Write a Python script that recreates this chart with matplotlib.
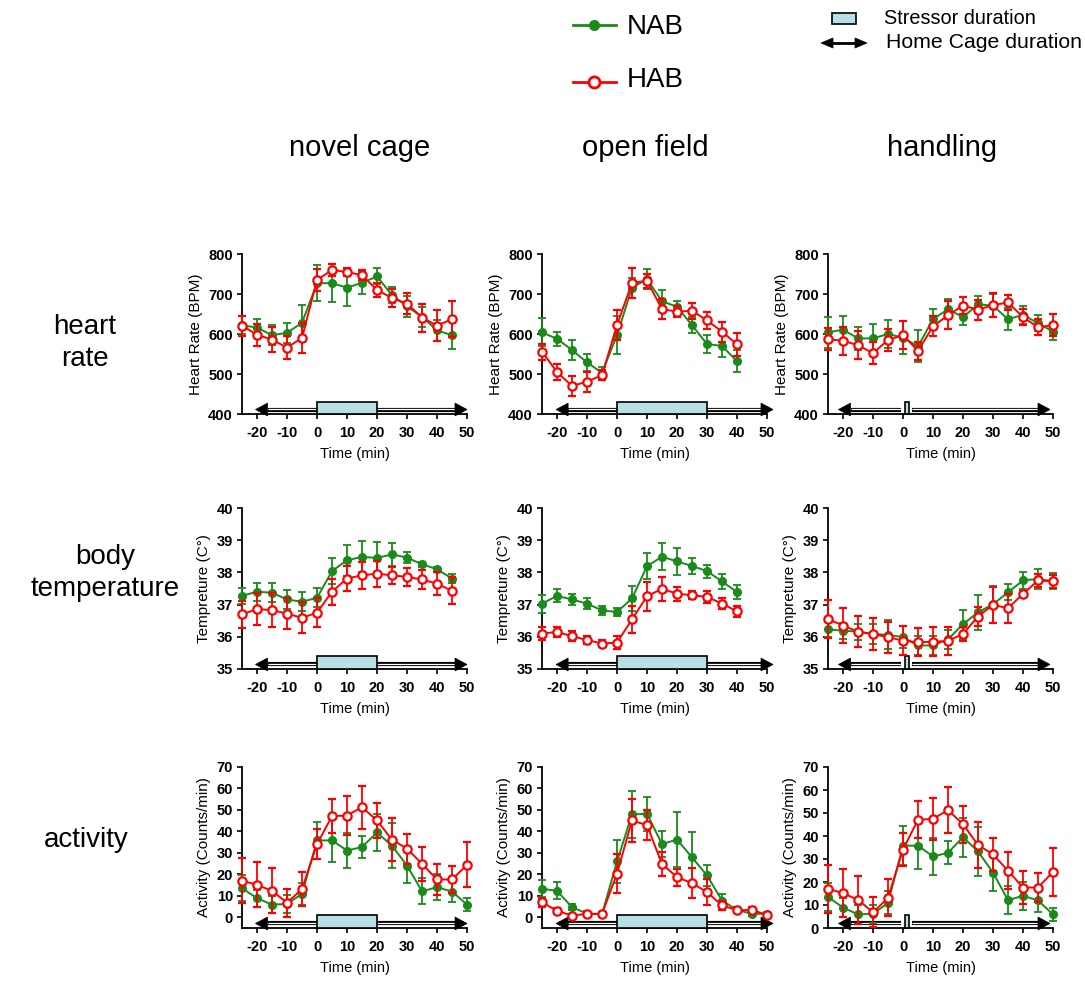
import matplotlib
matplotlib.use('Agg')
import matplotlib.pyplot as plt
import matplotlib.transforms as mtransforms
from matplotlib.patches import Rectangle, Polygon
from matplotlib.lines import Line2D
import numpy as np

plt.rcParams['font.family'] = ['Liberation Sans', 'DejaVu Sans']
plt.rcParams['axes.unicode_minus'] = False

# ---------------- data ----------------
columns = ['novel cage', 'open field', 'handling']
rows = ['heart\nrate', 'body\ntemperature', 'activity']
ylabels = ['Heart Rate (BPM)', 'Tempreture (C°)', 'Activity (Counts/min)']
xticks = [-20, -10, 0, 10, 20, 30, 40, 50]

t_nc = [-25, -20, -15, -10, -5, 0, 5, 10, 15, 20, 25, 30, 35, 40, 45]
t_of = [-25, -20, -15, -10, -5, 0, 5, 10, 15, 20, 25, 30, 35, 40]
t_full = [-25, -20, -15, -10, -5, 0, 5, 10, 15, 20, 25, 30, 35, 40, 45, 50]

# heart rate
hr_nc_nab = [622, 616, 597, 603, 628, 727, 727, 716, 728, 744, 697, 669, 643, 609, 597]
hr_nc_nab_e = [22, 21, 25, 25, 45, 45, 48, 46, 27, 20, 20, 27, 25, 27, 35]
hr_nc_hab = [621, 598, 586, 566, 590, 735, 760, 755, 747, 710, 690, 676, 641, 621, 637]
hr_nc_hab_e = [25, 27, 32, 28, 38, 28, 16, 10, 13, 17, 22, 27, 35, 38, 45]

hr_of_nab = [604, 588, 560, 529, 503, 597, 716, 737, 682, 668, 622, 575, 570, 532]
hr_of_nab_e = [35, 18, 25, 22, 15, 47, 25, 25, 28, 15, 20, 22, 28, 27]
hr_of_hab = [556, 505, 470, 481, 497, 622, 728, 733, 662, 656, 658, 634, 606, 574]
hr_of_hab_e = [20, 20, 25, 25, 12, 38, 38, 18, 25, 13, 20, 22, 25, 28]

hr_hd_nab = [604, 611, 589, 589, 600, 591, 569, 637, 662, 642, 674, 671, 637, 648, 627, 606]
hr_hd_nab_e = [38, 35, 28, 35, 35, 42, 40, 25, 25, 20, 22, 28, 28, 22, 20, 22]
hr_hd_hab = [587, 583, 572, 552, 585, 597, 558, 619, 647, 671, 661, 672, 679, 642, 617, 622]
hr_hd_hab_e = [28, 35, 35, 28, 28, 35, 22, 25, 35, 22, 25, 30, 18, 20, 20, 28]

# body temperature
bt_nc_nab = [37.27, 37.40, 37.37, 37.16, 37.09, 37.21, 38.04, 38.38, 38.48, 38.45, 38.56, 38.46, 38.25, 38.10, 37.81]
bt_nc_nab_e = [0.25, 0.28, 0.30, 0.30, 0.30, 0.30, 0.40, 0.48, 0.48, 0.48, 0.35, 0.18, 0.08, 0.08, 0.15]
bt_nc_hab = [36.70, 36.86, 36.83, 36.72, 36.59, 36.75, 37.40, 37.81, 37.91, 37.96, 37.91, 37.86, 37.78, 37.65, 37.43]
bt_nc_hab_e = [0.42, 0.50, 0.52, 0.48, 0.48, 0.46, 0.40, 0.40, 0.42, 0.40, 0.27, 0.27, 0.28, 0.35, 0.42]

bt_of_nab = [37.03, 37.27, 37.16, 37.03, 36.82, 36.77, 37.19, 38.19, 38.49, 38.34, 38.20, 38.04, 37.72, 37.39]
bt_of_nab_e = [0.28, 0.20, 0.17, 0.17, 0.15, 0.12, 0.40, 0.40, 0.42, 0.42, 0.25, 0.20, 0.22, 0.22]
bt_of_hab = [36.10, 36.15, 36.02, 35.90, 35.79, 35.82, 36.54, 37.26, 37.49, 37.34, 37.29, 37.24, 37.03, 36.79]
bt_of_hab_e = [0.20, 0.15, 0.15, 0.12, 0.12, 0.20, 0.42, 0.45, 0.37, 0.22, 0.12, 0.18, 0.18, 0.17]

bt_hd_nab = [36.23, 36.19, 36.16, 36.09, 36.06, 35.99, 35.73, 35.73, 35.92, 36.39, 36.76, 37.01, 37.38, 37.75, 37.80, 37.72]
bt_hd_nab_e = [0.25, 0.25, 0.25, 0.30, 0.45, 0.33, 0.30, 0.30, 0.30, 0.45, 0.55, 0.58, 0.25, 0.25, 0.30, 0.25]
bt_hd_hab = [36.55, 36.35, 36.16, 36.08, 35.99, 35.88, 35.83, 35.85, 35.87, 36.09, 36.63, 36.99, 36.89, 37.33, 37.75, 37.72]
bt_hd_hab_e = [0.58, 0.55, 0.48, 0.50, 0.48, 0.45, 0.43, 0.45, 0.42, 0.22, 0.30, 0.55, 0.45, 0.08, 0.20, 0.20]

# activity
ac_nc_nab = [13.5, 8.9, 5.9, 6.2, 10.9, 35.8, 35.8, 31.1, 32.7, 39.5, 33.3, 24.1, 12.1, 14.0, 12.0, 5.9]
ac_nc_nab_e = [6, 4, 4, 4, 5, 8.5, 10, 8, 5, 8.5, 10.5, 8, 6, 6, 5, 3]
ac_nc_hab = [17.1, 15.1, 12.3, 6.8, 13.1, 34.1, 47.1, 47.4, 51.3, 45.1, 36.1, 32.0, 24.9, 17.6, 17.6, 24.4]
ac_nc_hab_e = [10.5, 10.5, 10.5, 6.5, 8, 7, 8, 9, 10, 8, 10, 7, 8, 7, 6.5, 10.5]

ac_of_nab = [13.3, 12.3, 4.7, 1.7, 1.4, 26.0, 47.9, 48.2, 34.1, 36.2, 27.9, 19.5, 7.8, 3.4, 1.6, 1.6]
ac_of_nab_e = [4, 4, 1.5, 1, 0.5, 10, 11, 8, 6, 13, 12, 5, 3, 1.5, 1, 1]
ac_of_hab = [7.0, 3.0, 0.8, 1.6, 1.6, 20.3, 45.1, 42.9, 24.8, 18.7, 15.9, 11.7, 5.5, 3.3, 3.4, 1.1]
ac_of_hab_e = [2, 1.5, 0.5, 1, 1, 9, 10, 7, 5.5, 4, 7, 6, 2, 1.5, 1.5, 0.5]

ac_hd_nab = [13.5, 8.9, 5.9, 6.2, 10.9, 35.8, 35.8, 31.1, 32.7, 39.5, 33.3, 24.1, 12.1, 14.0, 12.0, 5.9]
ac_hd_nab_e = [6, 4, 4, 4, 5, 8.5, 10, 8, 5, 8.5, 10.5, 8, 6, 6, 5, 3]
ac_hd_hab = [17.1, 15.1, 12.3, 6.8, 13.1, 34.1, 47.1, 47.4, 51.3, 45.1, 36.1, 32.0, 24.9, 17.6, 17.6, 24.4]
ac_hd_hab_e = [10.5, 10.5, 10.5, 6.5, 8, 7, 8, 9, 10, 8, 10, 7, 8, 7, 6.5, 10.5]

# stressor box and home-cage arrows (minutes) per column
stressor = [(0, 20), (0, 30), (0.5, 2)]
home_left = [(0, -20.5), (0, -20.3), (-0.8, -21.5)]
home_right = [(20, 50), (30, 52), (3, 49)]

panels = [
    [(t_nc, hr_nc_nab, hr_nc_nab_e, hr_nc_hab, hr_nc_hab_e),
     (t_of, hr_of_nab, hr_of_nab_e, hr_of_hab, hr_of_hab_e),
     (t_full, hr_hd_nab, hr_hd_nab_e, hr_hd_hab, hr_hd_hab_e)],
    [(t_nc, bt_nc_nab, bt_nc_nab_e, bt_nc_hab, bt_nc_hab_e),
     (t_of, bt_of_nab, bt_of_nab_e, bt_of_hab, bt_of_hab_e),
     (t_full, bt_hd_nab, bt_hd_nab_e, bt_hd_hab, bt_hd_hab_e)],
    [(t_full, ac_nc_nab, ac_nc_nab_e, ac_nc_hab, ac_nc_hab_e),
     (t_full, ac_of_nab, ac_of_nab_e, ac_of_hab, ac_of_hab_e),
     (t_full, ac_hd_nab, ac_hd_nab_e, ac_hd_hab, ac_hd_hab_e)],
]
ylims = [[(400, 800)] * 3, [(35, 40)] * 3, [(-5, 70), (-5, 70), (0, 70)]]
yticks = [[400, 500, 600, 700, 800], [35, 36, 37, 38, 39, 40], [0, 10, 20, 30, 40, 50, 60, 70]]

GREEN = '#1a8a1a'
RED = '#ff0000'
BOX = '#b8dfe3'

# ---------------- layout ----------------
W, H = 1085, 981
fig = plt.figure(figsize=(W / 100, H / 100), dpi=100)


def fx(px):
    return px / W


def fy(py):
    return 1 - py / H


col_left = [242, 542, 828]
row_top = [254, 508, 767]
row_bot = [414, 669, 928]
ax_w = 225


def home_arrow(ax, x0, x1, y=0.028):
    tr = mtransforms.blended_transform_factory(ax.transData, ax.transAxes)
    hl = 4.0 * np.sign(x1 - x0)
    base = x1 - hl
    ax.plot([x0, base], [y, y], transform=tr, color='black', lw=3.0,
            solid_capstyle='butt', clip_on=False, zorder=3)
    ax.plot([x0, base], [y + 0.004, y + 0.004], transform=tr, color='white', lw=0.9,
            solid_capstyle='butt', clip_on=False, zorder=3.1)
    tri = Polygon([[x1, y], [base, y + 0.04], [base, y - 0.04]], closed=True,
                  transform=tr, facecolor='black', edgecolor='black', lw=0.5,
                  clip_on=False, zorder=3.2)
    ax.add_patch(tri)


for r in range(3):
    for c in range(3):
        ax = fig.add_axes([fx(col_left[c]), fy(row_bot[r]), fx(ax_w), (row_bot[r] - row_top[r]) / H])
        t, gn, ge, rd, re = panels[r][c]
        ax.errorbar(t, gn, yerr=ge, color=GREEN, lw=1.4, elinewidth=1.3, capsize=3, capthick=1.3,
                    marker='o', ms=5.5, mfc=GREEN, mec=GREEN, zorder=5, clip_on=False)
        ax.errorbar(t, rd, yerr=re, color=RED, lw=1.4, elinewidth=1.3, capsize=3, capthick=1.3,
                    marker='o', ms=6, mfc='white', mec=RED, mew=1.6, zorder=6, clip_on=False)
        ax.set_xlim(-25, 50)
        ax.set_ylim(*ylims[r][c])
        ax.set_xticks(xticks)
        ax.set_yticks(yticks[r])
        for s in ['top', 'right']:
            ax.spines[s].set_visible(False)
        for s in ['left', 'bottom']:
            ax.spines[s].set_linewidth(1.3)
        ax.tick_params(direction='out', length=3.5, width=1.2, labelsize=10.5)
        ax.tick_params(axis='x', pad=5)
        ax.tick_params(axis='y', pad=3)
        for lab in ax.get_xticklabels() + ax.get_yticklabels():
            lab.set_fontweight('bold')
        ax.set_xlabel('Time (min)', fontsize=10.5, labelpad=5)
        ax.set_ylabel(ylabels[r], fontsize=11, labelpad=4)
        # stressor box + home cage arrows
        tr = mtransforms.blended_transform_factory(ax.transData, ax.transAxes)
        s0, s1 = stressor[c]
        ax.add_patch(Rectangle((s0, 0), s1 - s0, 0.078, transform=tr, facecolor=BOX,
                               edgecolor='black', lw=1.2, clip_on=False, zorder=4))
        home_arrow(ax, *home_left[c])
        home_arrow(ax, *home_right[c])

# column titles
for c, name in enumerate(columns):
    fig.text(fx([360, 645, 942][c]), fy(148), name, fontsize=21, ha='center', va='center')

# row labels
fig.text(fx(85), fy(343), rows[0], fontsize=20, ha='center', va='center', linespacing=1.25)
fig.text(fx(105), fy(573), rows[1], fontsize=20, ha='center', va='center', linespacing=1.25)
fig.text(fx(86), fy(840), rows[2], fontsize=20, ha='center', va='center')

# legend: NAB / HAB
fig.add_artist(Line2D([fx(573), fx(616)], [fy(25), fy(25)], color=GREEN, lw=2))
fig.add_artist(Line2D([fx(594)], [fy(25)], marker='o', ms=7, color=GREEN, mfc=GREEN, mec=GREEN))
fig.text(fx(627), fy(27), 'NAB', fontsize=20, ha='left', va='center')
fig.add_artist(Line2D([fx(573), fx(616)], [fy(82), fy(82)], color=RED, lw=2))
fig.add_artist(Line2D([fx(594)], [fy(82)], marker='o', ms=8, color=RED, mfc='white', mec=RED, mew=2))
fig.text(fx(627), fy(80), 'HAB', fontsize=20, ha='left', va='center')

# legend: stressor / home cage
fig.add_artist(Rectangle((fx(832), fy(24)), fx(856) - fx(832), fy(13) - fy(24),
                         transform=fig.transFigure, facecolor=BOX, edgecolor='black', lw=1.2))
fig.text(fx(884), fy(18), 'Stressor duration', fontsize=14.3, ha='left', va='center')
ay = 43
fig.add_artist(Line2D([fx(830), fx(857)], [fy(ay), fy(ay)], color='black', lw=2,
                      solid_capstyle='butt'))
fig.add_artist(Polygon([[fx(821), fy(ay)], [fx(833), fy(ay - 5)], [fx(833), fy(ay + 5)]],
                       closed=True, transform=fig.transFigure, facecolor='black', edgecolor='black', lw=0.5))
fig.add_artist(Polygon([[fx(867), fy(ay)], [fx(855), fy(ay - 5)], [fx(855), fy(ay + 5)]],
                       closed=True, transform=fig.transFigure, facecolor='black', edgecolor='black', lw=0.5))
fig.text(fx(886), fy(43), 'Home Cage duration', fontsize=15.3, ha='left', va='center')

fig.savefig('out.png', dpi=100)
